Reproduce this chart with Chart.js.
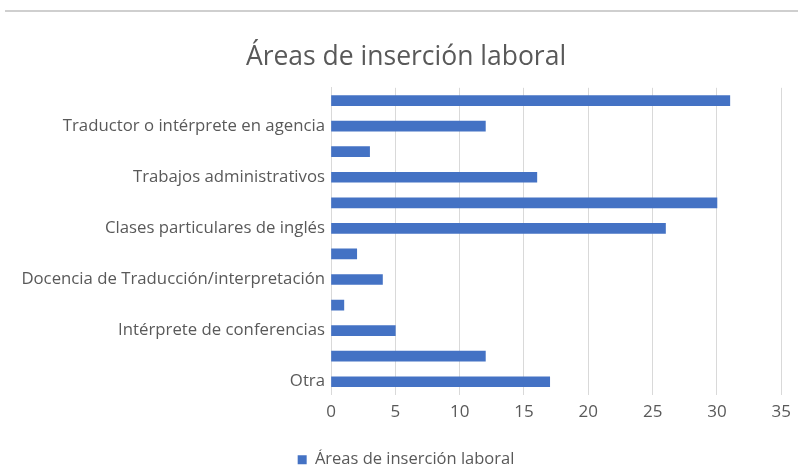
<!DOCTYPE html>
<html lang="es">
<head>
<meta charset="utf-8">
<script src="https://cdn.jsdelivr.net/npm/chart.js@4/dist/chart.umd.min.js"></script>
<style>
  html, body { margin: 0; padding: 0; background: #fff; }
  #wrap { position: relative; width: 798px; height: 467px; }
  #rule { position: absolute; left: 5px; right: 0; top: 10px; height: 0; border-top: 2px solid #cfcfcf; }
</style>
</head>
<body>
<div id="wrap">
  <div id="rule"></div>
  <canvas id="areasChart" width="798" height="467"></canvas>
</div>
<script>
// categories, top to bottom; Excel only prints every second one
var categorias = [
  'Traductor autónomo',
  'Traductor o intérprete en agencia',
  'Corrección y revisión',
  'Trabajos administrativos',
  'Docencia de inglés en centros',
  'Clases particulares de inglés',
  'Localización',
  'Docencia de Traducción/interpretación',
  'Investigación',
  'Intérprete de conferencias',
  'Traductor en empresa',
  'Otra'
];
var respuestas = [31, 12, 3, 16, 30, 26, 2, 4, 1, 5, 12, 17];
var ejeX = { min: 0, max: 35, paso: 5 };

var gris = '#595959';
var fuente = "'Open Sans', 'Noto Sans', sans-serif";

// long category names may spill into the left padding, so widen the label clip box
var sinRecorte = {
  id: 'sinRecorte',
  afterLayout: function (chart) { chart.scales.y.left = 0; }
};

new Chart(document.getElementById('areasChart'), {
  type: 'bar',
  data: {
    labels: categorias,
    datasets: [{
      label: 'Áreas de inserción laboral',
      data: respuestas,
      backgroundColor: '#4472C4',
      borderWidth: 0,
      barThickness: 10
    }]
  },
  options: {
    indexAxis: 'y',
    responsive: false,
    animation: false,
    layout: { padding: { left: 30, right: 16, top: 0, bottom: -11 } },
    plugins: {
      title: {
        display: true,
        text: 'Áreas de inserción laboral',
        color: gris,
        font: { family: fuente, size: 26.5, weight: '400' },
        padding: { top: 42, bottom: 14 }
      },
      legend: {
        position: 'bottom',
        labels: {
          color: gris,
          font: { family: fuente, size: 16.5 },
          usePointStyle: true,
          pointStyle: 'rect',
          boxWidth: 9,
          boxHeight: 9,
          padding: 2
        }
      },
      tooltip: { enabled: false }
    },
    scales: {
      x: {
        min: ejeX.min,
        max: ejeX.max,
        ticks: { stepSize: ejeX.paso, color: gris, font: { family: fuente, size: 17 }, padding: 7 },
        grid: { color: '#d9d9d9', drawTicks: false },
        border: { display: false },
        afterFit: function (s) { s.height = 55; }
      },
      y: {
        ticks: {
          color: gris,
          font: { family: fuente, size: 16.75 },
          padding: 6,
          autoSkip: false,
          callback: function (v, i) { return i % 2 === 1 ? this.getLabelForValue(v) : ''; }
        },
        grid: { display: false, drawTicks: false },
        border: { color: '#d9d9d9' },
        afterFit: function (s) { s.width = 301; }
      }
    }
  },
  plugins: [sinRecorte]
});
</script>
</body>
</html>
